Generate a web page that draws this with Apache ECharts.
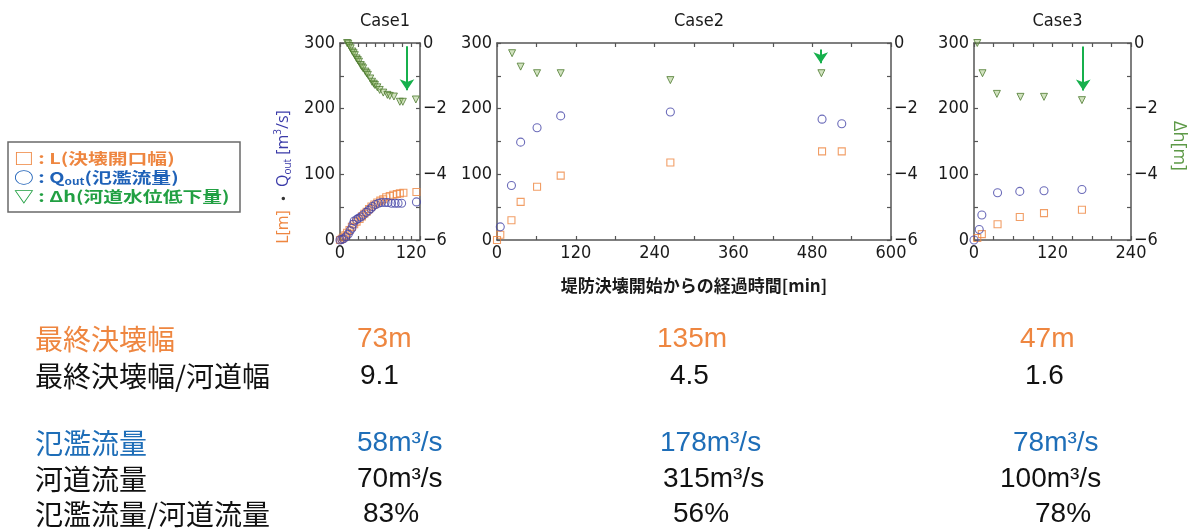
<!DOCTYPE html>
<html>
<head>
<meta charset="utf-8">
<script src="https://cdn.jsdelivr.net/npm/echarts@6/dist/echarts.min.js"></script>
<style>
html,body{margin:0;padding:0;background:#fff;}
#c{width:1196px;height:529px;}
</style>
</head>
<body>
<div id="c"></div>
<script>
// ---------- data ----------
const caseTitles = ['Case1', 'Case2', 'Case3'];
const xMax = [135, 600, 240];
const xTick = [15, 60, 30];
const xLabels = [[0, 120], [0, 120, 240, 360, 480, 600], [0, 120, 240]];
const yLeftLabels = [0, 100, 200, 300];
const yRightLabels = [0, -2, -4, -6];

// Case1
const c1_tL = [0, 3, 6, 9, 12, 16, 20, 24, 28, 33, 37, 41, 45, 49, 53, 58, 63, 68, 73, 78, 84, 90, 96, 101, 107, 129];
const c1_L  = [0, 2, 4, 7, 11, 15, 20, 24, 28, 32, 36, 40, 43, 47, 51, 54, 57, 60, 62, 65, 67, 69, 70, 71, 72, 73];
const c1_tQ = [0, 3, 6, 10, 14, 17, 20, 22, 24, 28, 31, 35, 39, 44, 48, 52, 55, 60, 65, 70, 76, 81, 87, 93, 98, 104, 129];
const c1_Q  = [0, 1, 2, 5, 9, 14, 18, 24, 29, 31, 33, 35, 38, 42, 45, 48, 51, 54, 56, 57, 57, 57, 56, 56, 56, 56, 58];
const c1_tH = [12, 14, 16, 18, 21, 23, 25, 28, 30, 32, 35, 37, 39, 43, 45, 47, 51, 54, 57, 59, 63, 67, 73, 80, 84, 91, 101, 106, 128];
const c1_H  = [0, -0.02, -0.09, -0.16, -0.26, -0.31, -0.37, -0.47, -0.52, -0.57, -0.67, -0.72, -0.77, -0.87, -0.92, -0.97, -1.08, -1.18, -1.24, -1.28, -1.35, -1.43, -1.51, -1.58, -1.61, -1.63, -1.79, -1.79, -1.72];

// Case2
const c2_tL = [0, 5, 22, 36, 61, 97, 264, 495, 525];
const c2_L  = [0, 8, 30, 58, 81, 98, 118, 135, 135];
const c2_tQ = [5, 22, 36, 61, 97, 264, 495, 525];
const c2_Q  = [20, 83, 149, 171, 189, 195, 184, 177];
const c2_tH = [23, 36, 61, 97, 264, 494];
const c2_H  = [-0.31, -0.72, -0.92, -0.92, -1.13, -0.92];

// Case3
const c3_tL = [5, 12, 36, 70, 107, 165];
const c3_L  = [3, 9, 24, 35, 41, 46];
const c3_tQ = [0, 8, 12, 36, 70, 107, 165];
const c3_Q  = [0, 16, 38, 72, 74, 75, 77];
const c3_tH = [5, 13, 35, 71, 107, 165];
const c3_H  = [0, -0.92, -1.55, -1.64, -1.64, -1.74];

// arrows (time, start dh, end dh)
const arrowT = [113, 493, 167];
const arrowFrom = [-0.1, -0.2, -0.11];
const arrowTo = [-1.44, -0.62, -1.45];

// table
const rowLabels = ['最終決壊幅', '最終決壊幅/河道幅', '氾濫流量', '河道流量', '氾濫流量/河道流量'];
const col1 = ['73m', '9.1', '58m³/s', '70m³/s', '83%'];
const col2 = ['135m', '4.5', '178m³/s', '315m³/s', '56%'];
const col3 = ['47m', '1.6', '78m³/s', '100m³/s', '78%'];

// ---------- styles / layout ----------
const ORANGE = '#EE8640';
const BLUE = '#4646A8';
const GREEN_EDGE = '#4E7A30';
const GREEN_FILL = 'rgba(150,190,110,0.55)';
const ARROW = '#16B04C';
const AXIS = '#555';
const NUMFONT = '"Liberation Sans Narrow","DejaVu Sans Condensed",Roboto,sans-serif';

const grids = [
  {left: 340, top: 43, width: 80, height: 197},
  {left: 497, top: 43, width: 394, height: 197},
  {left: 974, top: 43, width: 157, height: 197}
];

const pairs = (t, v) => t.map((x, i) => [x, v[i]]);
const data = [
  [pairs(c1_tL, c1_L), pairs(c1_tQ, c1_Q), pairs(c1_tH, c1_H)],
  [pairs(c2_tL, c2_L), pairs(c2_tQ, c2_Q), pairs(c2_tH, c2_H)],
  [pairs(c3_tL, c3_L), pairs(c3_tQ, c3_Q), pairs(c3_tH, c3_H)]
];

const labelStyle = {fontSize: 18, color: '#1a1a1a', fontFamily: NUMFONT};
const xAxis = [], yAxis = [], series = [], titles = [];
grids.forEach((g, i) => {
  const common = {
    type: 'value', gridIndex: i, min: 0, max: xMax[i], interval: xTick[i],
    axisLine: {onZero: false, lineStyle: {color: AXIS, width: 1.5}},
    axisTick: {inside: true, length: 4, lineStyle: {color: AXIS, width: 1.2}},
    splitLine: {show: false}
  };
  xAxis.push(Object.assign({}, common, {
    position: 'bottom',
    axisLabel: Object.assign({margin: 4,
      formatter: v => xLabels[i].indexOf(v) >= 0 ? String(v) : ''}, labelStyle)
  }));
  xAxis.push(Object.assign({}, common, {position: 'top', axisLabel: {show: false}}));
  yAxis.push({
    type: 'value', gridIndex: i, position: 'left', min: 0, max: 300, interval: 50,
    axisLine: {show: true, onZero: false, lineStyle: {color: AXIS, width: 1.5}},
    axisTick: {show: true, inside: true, length: 4, lineStyle: {color: AXIS, width: 1.2}},
    splitLine: {show: false},
    axisLabel: Object.assign({margin: 5,
      formatter: v => yLeftLabels.indexOf(v) >= 0 ? String(v) : ''}, labelStyle)
  });
  yAxis.push({
    type: 'value', gridIndex: i, position: 'right', min: -6, max: 0, interval: 1,
    axisLine: {show: true, onZero: false, lineStyle: {color: AXIS, width: 1.5}},
    axisTick: {show: true, inside: true, length: 4, lineStyle: {color: AXIS, width: 1.2}},
    splitLine: {show: false},
    axisLabel: Object.assign({margin: 3,
      formatter: v => yRightLabels.indexOf(v) >= 0 ? (v < 0 ? '\u2212' + (-v) : '0') : ''}, labelStyle)
  });
  series.push({
    type: 'scatter', xAxisIndex: i * 2, yAxisIndex: i * 2, data: data[i][0],
    symbol: 'rect', symbolSize: 7,
    itemStyle: {color: 'rgba(255,255,255,0)', borderColor: ORANGE, borderWidth: 1.1}
  });
  series.push({
    type: 'scatter', xAxisIndex: i * 2, yAxisIndex: i * 2, data: data[i][1],
    symbol: 'circle', symbolSize: 8,
    itemStyle: {color: 'rgba(255,255,255,0)', borderColor: BLUE, borderWidth: 1.1}
  });
  series.push({
    type: 'scatter', xAxisIndex: i * 2, yAxisIndex: i * 2 + 1, data: data[i][2],
    symbol: 'triangle', symbolRotate: 180, symbolSize: 7,
    itemStyle: {color: GREEN_FILL, borderColor: GREEN_EDGE, borderWidth: 1},
    markLine: {
      silent: true, animation: false, symbol: ['none', 'arrow'], symbolSize: 11,
      label: {show: false},
      lineStyle: {color: ARROW, width: 2, type: 'solid'},
      data: [[{coord: [arrowT[i], arrowFrom[i]]}, {coord: [arrowT[i], arrowTo[i]]}]]
    }
  });
  titles.push({
    text: caseTitles[i], left: g.left + g.width / 2, top: 7, textAlign: 'center',
    textStyle: {fontSize: 18, fontWeight: 'normal', color: '#1a1a1a', fontFamily: NUMFONT}
  });
});

// ---------- graphic: axis names, legend, table ----------
const graphic = [];
graphic.push({
  type: 'text', x: 283, y: 177, rotation: Math.PI / 2,
  style: {
    text: '{o|L[m]}{k| ・ }{b|Q}{bs|out}{b| [m}{bp|3}{b|/s]}',
    align: 'center', verticalAlign: 'middle',
    rich: {
      o: {fill: ORANGE, fontSize: 16, lineHeight: 20, fontFamily: 'Open Sans,sans-serif'},
      k: {fill: '#333', fontSize: 16, lineHeight: 20, fontFamily: 'Noto Sans CJK JP'},
      b: {fill: '#3a3aa8', fontSize: 16, lineHeight: 20, fontFamily: 'Open Sans,sans-serif'},
      bs: {fill: '#3a3aa8', fontSize: 10, lineHeight: 10, verticalAlign: 'bottom', fontFamily: 'Open Sans,sans-serif'},
      bp: {fill: '#3a3aa8', fontSize: 10, lineHeight: 10, verticalAlign: 'top', fontFamily: 'Open Sans,sans-serif'}
    }
  }
});
graphic.push({
  type: 'text', x: 1179, y: 146, rotation: -Math.PI / 2,
  style: {text: 'Δh[m]', fill: '#5E9A48', fontSize: 18, align: 'center', verticalAlign: 'middle',
    fontFamily: 'Open Sans,sans-serif'}
});
graphic.push({
  type: 'text', x: 694, y: 286,
  style: {text: '堤防決壊開始からの経過時間[min]', fill: '#1a1a1a', fontSize: 17, fontWeight: 'bold',
    align: 'center', verticalAlign: 'middle', fontFamily: 'Noto Sans CJK JP'}
});
// legend
graphic.push({
  type: 'rect', shape: {x: 8, y: 142, width: 232, height: 70},
  style: {fill: 'none', stroke: '#6a6a6a', lineWidth: 1.5}
});
const legFont = 'Noto Sans CJK JP';
const LS = 1.32;
graphic.push({
  type: 'text', x: 14, y: 158, scaleX: LS,
  style: {text: '□ : L(決壊開口幅)', fill: ORANGE, fontSize: 15, fontWeight: 'bold',
    verticalAlign: 'middle', fontFamily: legFont}
});
graphic.push({
  type: 'text', x: 14, y: 177, scaleX: LS,
  style: {text: '{a|○ : Q}{s|out}{a|(氾濫流量)}', verticalAlign: 'middle',
    rich: {
      a: {fill: '#1F62B8', fontSize: 15, fontWeight: 'bold', lineHeight: 18, fontFamily: legFont},
      s: {fill: '#1F62B8', fontSize: 9, fontWeight: 'bold', lineHeight: 9, verticalAlign: 'bottom', fontFamily: legFont}
    }}
});
graphic.push({
  type: 'text', x: 14, y: 196, scaleX: LS,
  style: {text: '▽ : Δh(河道水位低下量)', fill: '#22A043', fontSize: 15, fontWeight: 'bold',
    verticalAlign: 'middle', fontFamily: legFont}
});
// table
const rowY = [339, 376, 443, 479, 514];
const rowColor = [ORANGE, '#111', '#1E6EB8', '#111', '#111'];
const colX = [
  [357, 360, 357, 357, 363],
  [657, 670, 660, 663, 673],
  [1020, 1025, 1013, 1000, 1035]
];
const cols = [col1, col2, col3];
rowLabels.forEach((lab, r) => {
  graphic.push({
    type: 'text', x: 35, y: rowY[r],
    style: {text: lab, fill: rowColor[r], fontSize: 28, verticalAlign: 'middle', fontFamily: 'Noto Sans CJK JP'}
  });
  cols.forEach((col, c) => {
    graphic.push({
      type: 'text', x: colX[c][r], y: rowY[r],
      style: {text: col[r], fill: rowColor[r], fontSize: 28, verticalAlign: 'middle',
        fontFamily: '"Liberation Sans",Arial,sans-serif'}
    });
  });
});

const chart = echarts.init(document.getElementById('c'));
chart.setOption({
  animation: false,
  backgroundColor: '#fff',
  title: titles,
  grid: grids,
  xAxis: xAxis,
  yAxis: yAxis,
  series: series,
  graphic: graphic
});
</script>
</body>
</html>
